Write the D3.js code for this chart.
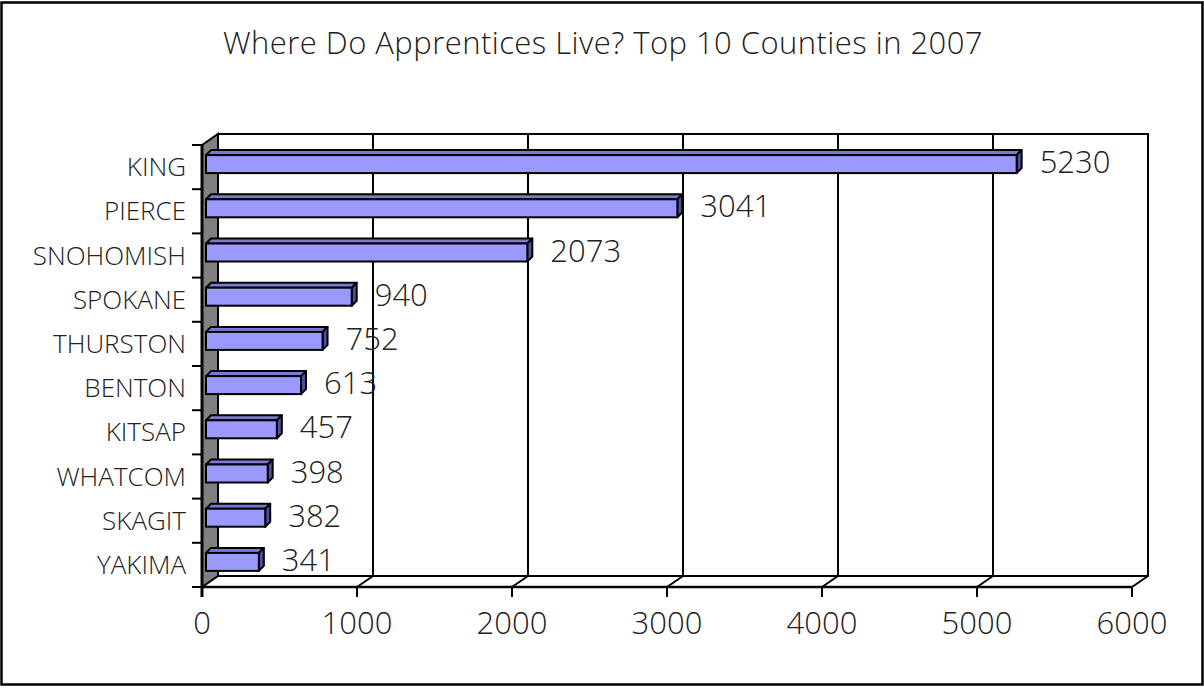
<!DOCTYPE html>
<html>
<head>
<meta charset="utf-8">
<script src="https://cdn.jsdelivr.net/npm/d3@7"></script>
<style>
  body { margin: 0; background: #fff; }
  text { font-family: "Open Sans", "DejaVu Sans", sans-serif; font-weight: 300; fill: #222; }
</style>
</head>
<body>
<script>
const counties = ["KING", "PIERCE", "SNOHOMISH", "SPOKANE", "THURSTON", "BENTON", "KITSAP", "WHATCOM", "SKAGIT", "YAKIMA"];
const apprentices = [5230, 3041, 2073, 940, 752, 613, 457, 398, 382, 341];
const xTicks = [0, 1000, 2000, 3000, 4000, 5000, 6000];
const title = "Where Do Apprentices Live? Top 10 Counties in 2007";

const width = 1204, height = 688;
const dx = 16, dy = -11;      // depth of the 3d box
const bx = 4, by = -3;        // bar front plane offset
const bdx = 5, bdy = -5;      // bar depth

const data = counties.map((c, i) => ({ name: c, value: apprentices[i] }));

const svg = d3.select("body").append("svg")
    .attr("width", width)
    .attr("height", height);

// outer border
svg.append("rect")
    .attr("x", 1.5).attr("y", 2.5)
    .attr("width", 1201).attr("height", 682)
    .attr("fill", "#fff")
    .attr("stroke", "#000")
    .attr("stroke-width", 2.5);

svg.append("text")
    .attr("x", 603).attr("y", 54)
    .attr("text-anchor", "middle")
    .attr("font-size", 31)
    .attr("letter-spacing", 0.45)
    .text(title);

const x = d3.scaleLinear().domain([0, 6000]).range([202, 1132]);
const y = d3.scaleBand().domain(counties).range([145, 587]);

const yTop = y.range()[0], yBot = y.range()[1];

// back wall
svg.append("rect")
    .attr("x", x(0) + dx).attr("y", yTop + dy)
    .attr("width", x(6000) - x(0)).attr("height", yBot - yTop)
    .attr("fill", "#fff")
    .attr("stroke", "#000")
    .attr("stroke-width", 2);

// grid on the back wall
svg.selectAll(".grid")
    .data(xTicks.slice(1, -1))
    .join("line")
    .attr("x1", d => x(d) + dx).attr("x2", d => x(d) + dx)
    .attr("y1", yTop + dy).attr("y2", yBot + dy)
    .attr("stroke", "#000")
    .attr("stroke-width", 2);

// floor
svg.selectAll(".floor")
    .data(xTicks.slice(1))
    .join("line")
    .attr("x1", d => x(d)).attr("y1", yBot)
    .attr("x2", d => x(d) + dx).attr("y2", yBot + dy)
    .attr("stroke", "#000")
    .attr("stroke-width", 2);

svg.append("line")
    .attr("x1", x(0)).attr("x2", x(6000))
    .attr("y1", yBot).attr("y2", yBot)
    .attr("stroke", "#000")
    .attr("stroke-width", 2.5);

// side wall
svg.append("polygon")
    .attr("points", [[x(0), yTop], [x(0) + dx, yTop + dy], [x(0) + dx, yBot + dy], [x(0), yBot]].join(" "))
    .attr("fill", "#808080")
    .attr("stroke", "#000")
    .attr("stroke-width", 2);

svg.append("line")
    .attr("x1", x(0)).attr("x2", x(0))
    .attr("y1", yTop).attr("y2", yBot + 10)
    .attr("stroke", "#000")
    .attr("stroke-width", 3);

// y ticks
svg.selectAll(".ytick")
    .data(counties.map(c => y(c)).concat([yBot]))
    .join("line")
    .attr("x1", x(0) - 10).attr("x2", x(0))
    .attr("y1", d => d).attr("y2", d => d)
    .attr("stroke", "#000")
    .attr("stroke-width", 2);

// x ticks
svg.selectAll(".xtick")
    .data(xTicks)
    .join("line")
    .attr("x1", d => x(d)).attr("x2", d => x(d))
    .attr("y1", yBot).attr("y2", yBot + 10)
    .attr("stroke", "#000")
    .attr("stroke-width", 2);

svg.selectAll(".xlabel")
    .data(xTicks)
    .join("text")
    .attr("x", d => x(d)).attr("y", 634)
    .attr("text-anchor", "middle")
    .attr("font-size", 31)
    .text(d => d);

svg.selectAll(".ylabel")
    .data(counties)
    .join("text")
    .attr("x", 186)
    .attr("y", d => y(d) + y.bandwidth() / 2 + 9)
    .attr("text-anchor", "end")
    .attr("font-size", 26)
    .text(d => d);

// bars
const barH = 18;
const bars = svg.selectAll(".bar")
    .data(data)
    .join("g");

bars.each(function(d) {
    const g = d3.select(this);
    const x0 = x(0) + bx, x1 = x(d.value) + bx;
    const y0 = y(d.name) + y.bandwidth() / 2 - barH / 2 + by;
    const y1 = y0 + barH;
    // top face
    g.append("polygon")
        .attr("points", [[x0, y0], [x0 + bdx, y0 + bdy], [x1 + bdx, y0 + bdy], [x1, y0]].join(" "))
        .attr("fill", "#7a7ad0")
        .attr("stroke", "#000")
        .attr("stroke-width", 2)
        .attr("stroke-linejoin", "round");
    // end face
    g.append("polygon")
        .attr("points", [[x1, y0], [x1 + bdx, y0 + bdy], [x1 + bdx, y1 + bdy], [x1, y1]].join(" "))
        .attr("fill", "#4f4f9a")
        .attr("stroke", "#000")
        .attr("stroke-width", 2)
        .attr("stroke-linejoin", "round");
    // front face
    g.append("rect")
        .attr("x", x0).attr("y", y0)
        .attr("width", x1 - x0).attr("height", barH)
        .attr("fill", "#9999ff")
        .attr("stroke", "#000")
        .attr("stroke-width", 2);
    g.append("text")
        .attr("x", x1 + 23)
        .attr("y", y1)
        .attr("font-size", 31)
        .text(d.value);
});
</script>
</body>
</html>
